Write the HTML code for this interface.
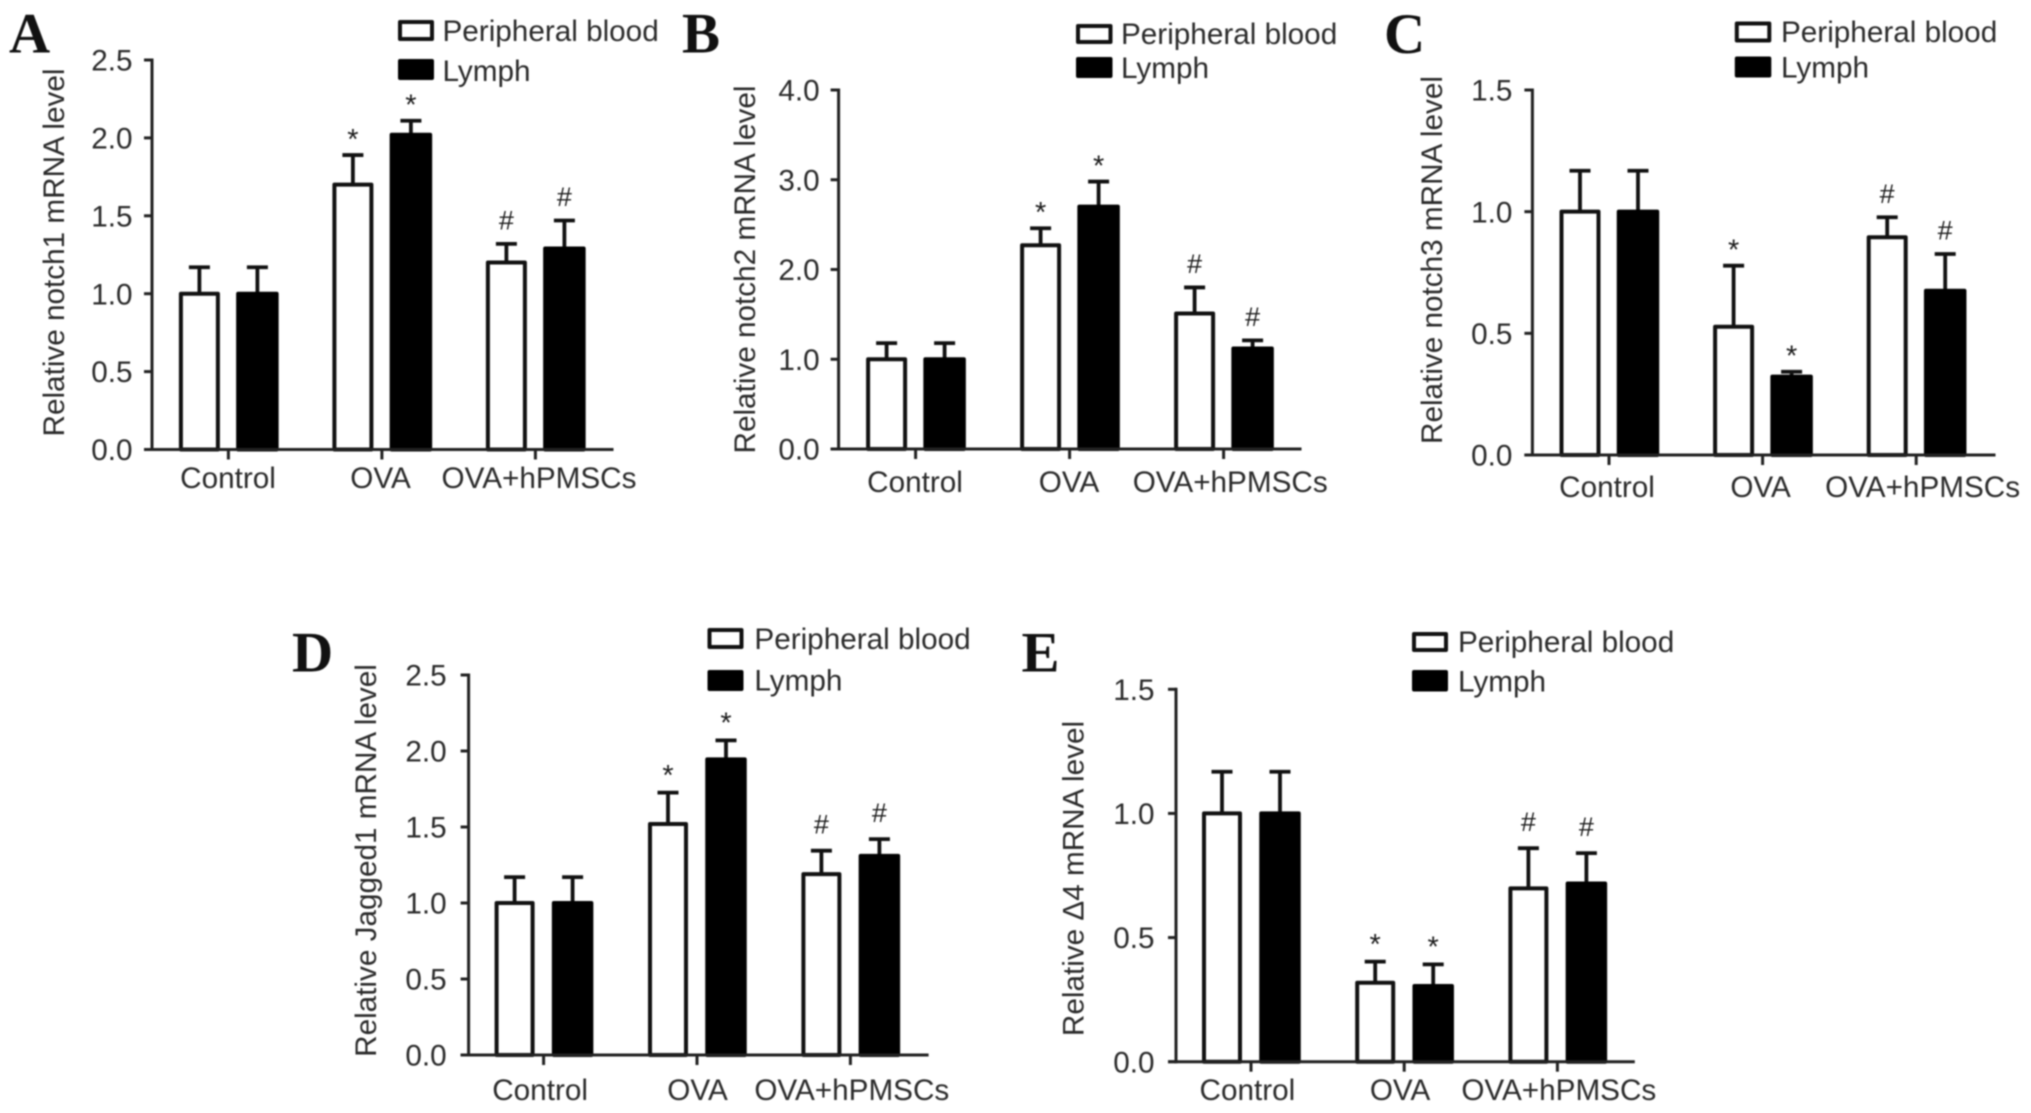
<!DOCTYPE html>
<html lang="en">
<head>
<meta charset="utf-8">
<title>Relative mRNA levels in peripheral blood and lymph</title>
<style>
  html, body { margin: 0; padding: 0; background: #fff; }
  #figure { display: block; width: 2031px; height: 1113px; filter: blur(0.7px); }
  text { font-family: "Liberation Sans", Arial, sans-serif; fill: #2b2b2b; }
  .letter { font-family: "Liberation Serif", "Times New Roman", serif; font-weight: bold; font-size: 57px; fill: #111; }
  .title { font-size: 29.7px; text-anchor: middle; }
  .legend-large { font-size: 29.7px; }
  .box-white { fill: #fff; stroke: #111; stroke-width: 4; stroke-linejoin: round; }
  .box-black { fill: #000; stroke: #000; stroke-width: 4; stroke-linejoin: round; }
</style>
</head>
<body>
<svg id="figure" width="2031" height="1113" viewBox="0 0 2031 1113">
  <rect x="0" y="0" width="2031" height="1113" fill="#fff"/>

  <g id="panel-a">
    <text class="letter" x="9" y="52.5">A</text>
    <text class="title" transform="translate(64,252.5) rotate(-90)">Relative notch1 mRNA level</text>
    <g>
      <rect class="box-white" x="400" y="22" width="32" height="17"/>
      <text class="legend-large" x="442.5" y="41">Peripheral blood</text>
      <rect class="box-black" x="400" y="61" width="32" height="17"/>
      <text class="legend-large" x="442.5" y="81">Lymph</text>
    </g>
  </g>

  <g id="panel-b">
    <text class="letter" x="682" y="52.5">B</text>
    <text class="title" transform="translate(755,269.5) rotate(-90)">Relative notch2 mRNA level</text>
    <g>
      <rect class="box-white" x="1078" y="26" width="32.5" height="16"/>
      <text class="legend-large" x="1121" y="44">Peripheral blood</text>
      <rect class="box-black" x="1078" y="59" width="32.5" height="17"/>
      <text class="legend-large" x="1121" y="78">Lymph</text>
    </g>
  </g>

  <g id="panel-c">
    <text class="letter" x="1384" y="53">C</text>
    <text class="title" transform="translate(1442,260) rotate(-90)">Relative notch3 mRNA level</text>
    <g>
      <rect class="box-white" x="1736.8" y="23.5" width="32.5" height="17"/>
      <text class="legend-large" x="1781" y="42">Peripheral blood</text>
      <rect class="box-black" x="1736.8" y="58.5" width="32.5" height="17"/>
      <text class="legend-large" x="1781" y="77.5">Lymph</text>
    </g>
  </g>

  <g id="panel-d">
    <text class="letter" x="292" y="671.5">D</text>
    <text class="title" transform="translate(376,860.5) rotate(-90)">Relative Jagged1 mRNA level</text>
    <g>
      <rect class="box-white" x="709.5" y="630" width="32" height="17"/>
      <text class="legend-large" x="754.4" y="649">Peripheral blood</text>
      <rect class="box-black" x="709.5" y="672" width="32" height="17"/>
      <text class="legend-large" x="754.4" y="690.5">Lymph</text>
    </g>
  </g>

  <g id="panel-e">
    <text class="letter" x="1021.5" y="671.5">E</text>
    <text class="title" transform="translate(1083.5,878.5) rotate(-90)">Relative Δ4 mRNA level</text>
    <g>
      <rect class="box-white" x="1414" y="634" width="32" height="16"/>
      <text class="legend-large" x="1458" y="652">Peripheral blood</text>
      <rect class="box-black" x="1414" y="672" width="32" height="17.5"/>
      <text class="legend-large" x="1458" y="691.5">Lymph</text>
    </g>
  </g>
</svg>

<script>
// Shared categories and significance markers
const categories = ['Control', 'OVA', 'OVA+hPMSCs'];
const significanceMarks = ['', '*', '#'];

// Panel A: notch1
const ticksA = [0, 0.5, 1.0, 1.5, 2.0, 2.5];
const bloodA = [1.0, 1.70, 1.20];
const bloodErrA = [0.17, 0.19, 0.12];
const lymphA = [1.0, 2.02, 1.29];
const lymphErrA = [0.17, 0.09, 0.18];

// Panel B: notch2
const ticksB = [0, 1.0, 2.0, 3.0, 4.0];
const bloodB = [1.0, 2.27, 1.51];
const bloodErrB = [0.18, 0.19, 0.29];
const lymphB = [1.0, 2.70, 1.12];
const lymphErrB = [0.18, 0.28, 0.09];

// Panel C: notch3
const ticksC = [0, 0.5, 1.0, 1.5];
const bloodC = [1.0, 0.527, 0.895];
const bloodErrC = [0.168, 0.251, 0.082];
const lymphC = [1.0, 0.322, 0.675];
const lymphErrC = [0.168, 0.02, 0.151];

// Panel D: Jagged1
const ticksD = [0, 0.5, 1.0, 1.5, 2.0, 2.5];
const bloodD = [1.0, 1.52, 1.19];
const bloodErrD = [0.17, 0.206, 0.154];
const lymphD = [1.0, 1.945, 1.31];
const lymphErrD = [0.17, 0.125, 0.11];

// Panel E: delta-4
const ticksE = [0, 0.5, 1.0, 1.5];
const bloodE = [1.0, 0.318, 0.698];
const bloodErrE = [0.168, 0.085, 0.162];
const lymphE = [1.0, 0.305, 0.718];
const lymphErrE = [0.168, 0.087, 0.122];

// Panel geometry (layout only, no data)
const layoutA = { axisX: 152, y0: 449.5, yTop: 60, xEnd: 613.5, first: 228.4, step: 153.5, offset: 29, barW: 37, font: 29.7, labelDy: 38.5, tickGap: 11.5, markLift: 0, nudge: [-0.4, -1.4, 3.6] };
const layoutB = { axisX: 838.6, y0: 449, yTop: 90, xEnd: 1301.5, first: 915.6, step: 154, offset: 29, barW: 37, font: 29.7, labelDy: 43, tickGap: 11, markLift: 0, nudge: [-0.6, -0.6, 6.6] };
const layoutC = { axisX: 1532.4, y0: 455, yTop: 90, xEnd: 1995.5, first: 1609, step: 153.6, offset: 29, barW: 37, font: 29.7, labelDy: 42, tickGap: 12, markLift: 0, nudge: [-2, -2, 6.4] };
const layoutD = { axisX: 468.6, y0: 1055, yTop: 675, xEnd: 928.6, first: 543.6, step: 153.4, offset: 29, barW: 36, font: 29.7, labelDy: 45, tickGap: 14, markLift: 2.5, nudge: [-3.5, 0.5, 1.4] };
const layoutE = { axisX: 1176, y0: 1061.7, yTop: 689.3, xEnd: 1634.8, first: 1251, step: 153.2, offset: 29, barW: 36, font: 29.7, labelDy: 38.5, tickGap: 13.5, markLift: 2.5, nudge: [-3.6, -4.1, 1.4] };

const NS = document.getElementById('figure').namespaceURI;

function make(parent, tag, attrs) {
  const node = document.createElementNS(NS, tag);
  for (const key in attrs) node.setAttribute(key, attrs[key]);
  parent.appendChild(node);
  return node;
}

function drawSeries(group, L, yScale, xScale, sign, values, errors, fill) {
  const isBlack = fill === '#000';
  const width = isBlack ? L.barW + 1.5 : L.barW;
  values.forEach(function (value, i) {
    const cx = xScale(i) + sign * L.offset;
    const top = yScale(value);
    const errTop = yScale(value + errors[i]);

    const stem = make(group, 'line', { x1: cx, x2: cx, y1: top, y2: errTop, stroke: '#111', 'stroke-width': 3.8 });
    
    

    const cap = make(group, 'line', { x1: cx - 10.5, x2: cx + 10.5, y1: errTop, y2: errTop, stroke: '#111', 'stroke-width': 3.8 });
    
    

    const bar = make(group, 'rect', { x: cx - width / 2, y: top, width: width, height: L.y0 - top, fill: fill, stroke: isBlack ? '#000' : '#111', 'stroke-width': 4, 'stroke-linejoin': 'round' });
    
    

    const mark = significanceMarks[i];
    if (mark) {
      const isStar = mark === '*';
      const baseline = (isStar ? errTop - 23 + 16.8 : errTop - 24 + 9.5) - (isStar ? 0.6 : 1) * L.markLift;
      const sig = make(group, 'text', { x: cx, y: baseline, 'text-anchor': 'middle', 'font-size': isStar ? 29 : 27 });
      sig.style.fill = '#1c1c1c';
      sig.textContent = mark;
      
      
    }
  });
}

function drawPanel(id, L, ticks, blood, bloodErr, lymph, lymphErr) {
  const group = document.getElementById(id);
  const maxTick = ticks[ticks.length - 1];
  const yScale = function (v) { return L.y0 - (v / maxTick) * (L.y0 - L.yTop); };
  const xScale = function (i) { return L.first + i * L.step; };
  const tickLen = 8;

  drawSeries(group, L, yScale, xScale, -1, blood, bloodErr, '#fff');
  drawSeries(group, L, yScale, xScale, 1, lymph, lymphErr, '#000');

  const yAxis = make(group, 'line', { x1: L.axisX, x2: L.axisX, y1: L.yTop - 1.5, y2: L.y0 + 1.5, stroke: '#222', 'stroke-width': 3 });
  
  

  const xAxis = make(group, 'line', { x1: L.axisX - tickLen, x2: L.xEnd, y1: L.y0, y2: L.y0, stroke: '#222', 'stroke-width': 3 });
  
  

  ticks.forEach(function (t) {
    const y = yScale(t);
    const mark = make(group, 'line', { x1: L.axisX - tickLen, x2: L.axisX, y1: y, y2: y, stroke: '#222', 'stroke-width': 3 });
    
    

    const label = make(group, 'text', { x: L.axisX - tickLen - L.tickGap, y: y + L.font * 0.358, 'text-anchor': 'end', 'font-size': L.font });
    label.textContent = t.toFixed(1);
    
    
  });

  categories.forEach(function (name, i) {
    const x = xScale(i);
    const mark = make(group, 'line', { x1: x, x2: x, y1: L.y0, y2: L.y0 + 10, stroke: '#222', 'stroke-width': 3 });
    
    

    const label = make(group, 'text', { x: x + L.nudge[i], y: L.y0 + L.labelDy, 'text-anchor': 'middle', 'font-size': L.font });
    label.textContent = name;
    
    
  });
}

drawPanel('panel-a', layoutA, ticksA, bloodA, bloodErrA, lymphA, lymphErrA);
drawPanel('panel-b', layoutB, ticksB, bloodB, bloodErrB, lymphB, lymphErrB);
drawPanel('panel-c', layoutC, ticksC, bloodC, bloodErrC, lymphC, lymphErrC);
drawPanel('panel-d', layoutD, ticksD, bloodD, bloodErrD, lymphD, lymphErrD);
drawPanel('panel-e', layoutE, ticksE, bloodE, bloodErrE, lymphE, lymphErrE);
</script>
</body>
</html>
